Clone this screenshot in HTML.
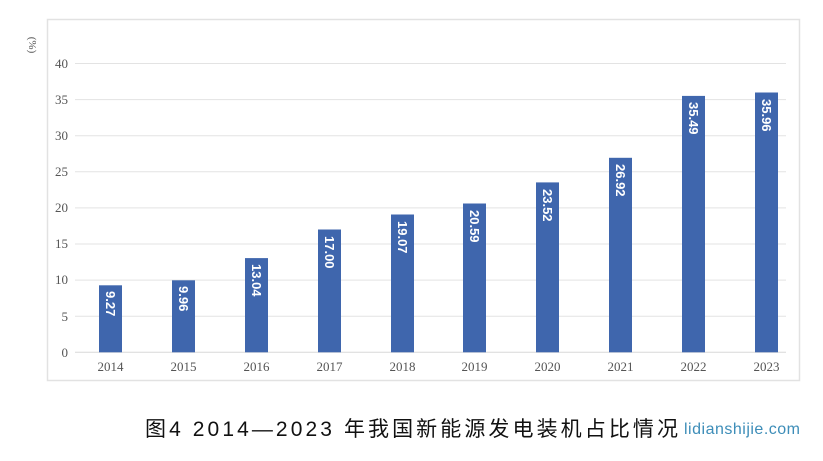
<!DOCTYPE html>
<html><head><meta charset="utf-8"><style>
html,body{margin:0;padding:0;background:#fff;width:823px;height:461px;overflow:hidden}
svg{display:block}
</style></head><body>
<svg width="823" height="461" viewBox="0 0 823 461" xmlns="http://www.w3.org/2000/svg">
<rect x="47.5" y="19.5" width="752" height="361" fill="#fff" stroke="#e2e2e2" stroke-width="1.5"/>
<text x="29" y="45" font-family="Liberation Serif, serif" font-size="11" fill="#555" transform="rotate(90 29 45)" text-anchor="middle">(%)</text>
<g font-family="Liberation Serif, serif" font-size="13" fill="#555" text-anchor="end">
<line x1="75" x2="786" y1="63.5" y2="63.5" stroke="#e3e3e3"/><text x="68" y="68">40</text>
<line x1="75" x2="786" y1="99.6" y2="99.6" stroke="#e3e3e3"/><text x="68" y="104">35</text>
<line x1="75" x2="786" y1="135.7" y2="135.7" stroke="#e3e3e3"/><text x="68" y="140">30</text>
<line x1="75" x2="786" y1="171.8" y2="171.8" stroke="#e3e3e3"/><text x="68" y="176">25</text>
<line x1="75" x2="786" y1="207.9" y2="207.9" stroke="#e3e3e3"/><text x="68" y="212">20</text>
<line x1="75" x2="786" y1="244" y2="244" stroke="#e3e3e3"/><text x="68" y="248">15</text>
<line x1="75" x2="786" y1="280.1" y2="280.1" stroke="#e3e3e3"/><text x="68" y="284">10</text>
<line x1="75" x2="786" y1="316.2" y2="316.2" stroke="#e3e3e3"/><text x="68" y="321">5</text>
<line x1="75" x2="786" y1="352.3" y2="352.3" stroke="#d8d8d8"/><text x="68" y="357">0</text>
</g>
<g fill="#3f66ad">
<rect x="99" y="285.3" width="23" height="67"/>
<rect x="172" y="280.3" width="23" height="72"/>
<rect x="245" y="258.1" width="23" height="94.2"/>
<rect x="318" y="229.5" width="23" height="122.8"/>
<rect x="391" y="214.5" width="23" height="137.8"/>
<rect x="463" y="203.5" width="23" height="148.8"/>
<rect x="536" y="182.4" width="23" height="169.9"/>
<rect x="609" y="157.8" width="23" height="194.5"/>
<rect x="682" y="95.9" width="23" height="256.4"/>
<rect x="755" y="92.5" width="23" height="259.8"/>
</g>
<g font-family="Liberation Sans, sans-serif" font-size="13" font-weight="bold" fill="#fff">
<text transform="translate(106 291) rotate(90)">9.27</text>
<text transform="translate(179 286) rotate(90)">9.96</text>
<text transform="translate(252 264) rotate(90)">13.04</text>
<text transform="translate(325 236) rotate(90)">17.00</text>
<text transform="translate(398 221) rotate(90)">19.07</text>
<text transform="translate(470 210) rotate(90)">20.59</text>
<text transform="translate(543 189) rotate(90)">23.52</text>
<text transform="translate(616 164) rotate(90)">26.92</text>
<text transform="translate(689 102) rotate(90)">35.49</text>
<text transform="translate(762 99) rotate(90)">35.96</text>
</g>
<g font-family="Liberation Serif, serif" font-size="13" fill="#555" text-anchor="middle">
<text x="110.5" y="371">2014</text><text x="183.5" y="371">2015</text><text x="256.5" y="371">2016</text>
<text x="329.5" y="371">2017</text><text x="402.5" y="371">2018</text><text x="474.5" y="371">2019</text>
<text x="547.5" y="371">2020</text><text x="620.5" y="371">2021</text><text x="693.5" y="371">2022</text>
<text x="766.5" y="371">2023</text>
</g>
<text x="145" y="436" font-family="Liberation Sans, 'Noto Sans CJK SC', sans-serif" font-size="21" fill="#111" textLength="533">图4 2014—2023 年我国新能源发电装机占比情况</text>
<text x="684" y="434" font-family="Liberation Sans, sans-serif" font-size="16" fill="#3d8db8" textLength="116">lidianshijie.com</text>
</svg>
</body></html>
